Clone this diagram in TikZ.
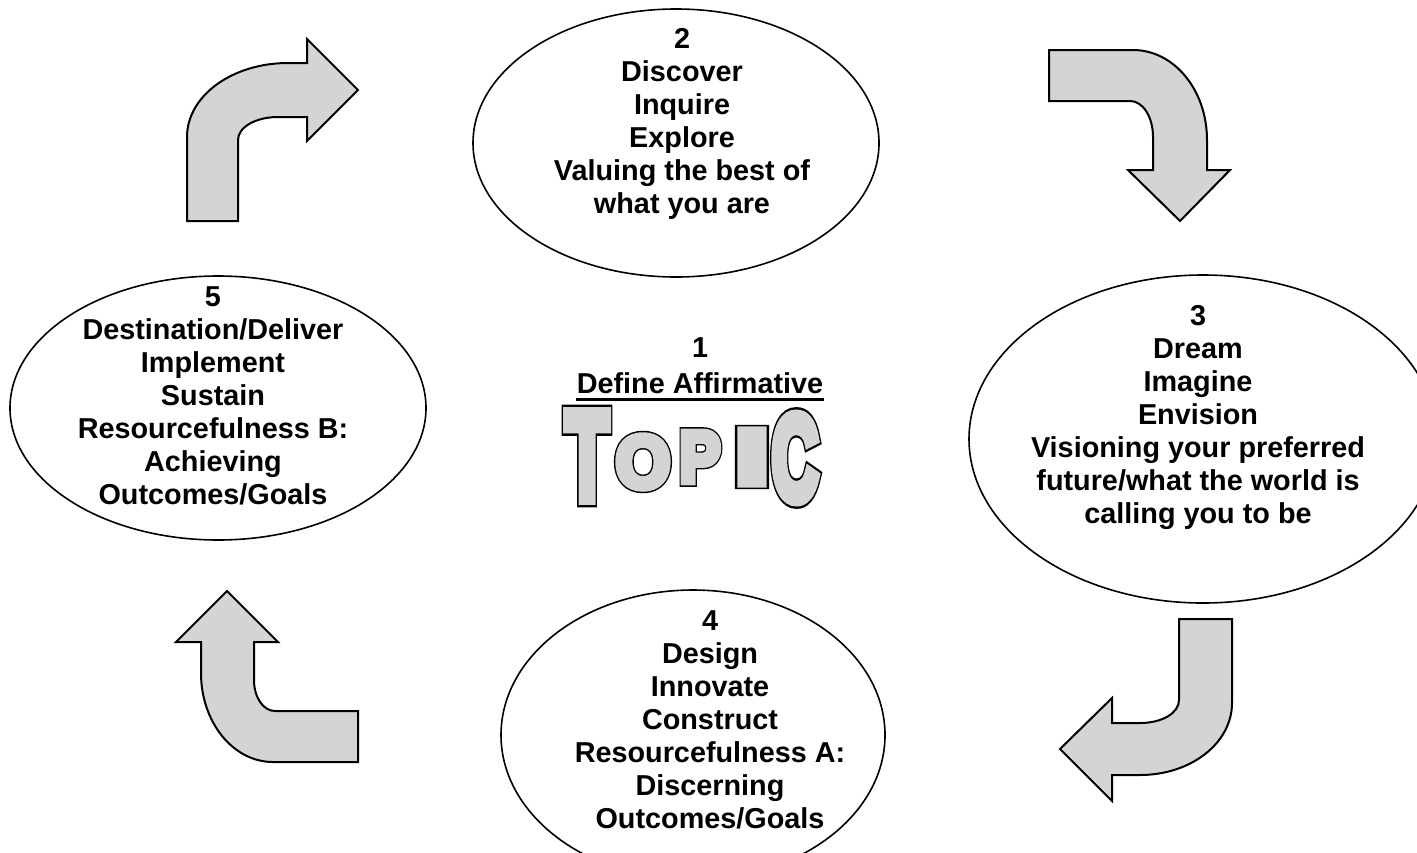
\documentclass[tikz,border=0pt]{standalone}
\usepackage{fontspec}
\setmainfont{Liberation Sans}
\newfontfamily\artedge[FakeBold=14]{Liberation Sans Bold}
\newfontfamily\artfill[FakeBold=10]{Liberation Sans Bold}
\usetikzlibrary{shapes.geometric}
\definecolor{shade}{RGB}{212,212,212}
\begin{document}
\begin{tikzpicture}[x=0.5pt,y=-0.5pt,
  oval/.style={ellipse, draw, line width=0.8pt, inner sep=0pt},
  steptext/.style={font=\fontsize{14.4}{16.5}\selectfont\bfseries, align=center, inner sep=0pt},
  turnarrow/.style={draw, fill=shade, line width=1pt, line join=miter},
  artback/.style={font=\artedge\fontsize{40}{40}\selectfont, inner sep=0pt, text=black},
  artfront/.style={font=\artfill\fontsize{40}{40}\selectfont, inner sep=0pt, text=shade}]
\useasboundingbox (0,0) rectangle (1417,852);
\clip (0,0) rectangle (1417,852);

% ellipses
\node[oval, minimum width=203pt, minimum height=134pt] (e2) at (676,143) {};
\node[oval, minimum width=234pt, minimum height=164pt] (e3) at (1203,439) {};
\node[oval, minimum width=192pt, minimum height=145pt] (e4) at (693,735) {};
\node[oval, minimum width=208pt, minimum height=132pt] (e5) at (218,408) {};

% texts
\node[steptext] (t2) at (682,124) {2\\Discover\\Inquire\\Explore\\Valuing the best of\\what you are};
\node[steptext] (t3) at (1198,417) {3\\Dream\\Imagine\\Envision\\Visioning your preferred\\future/what the world is\\calling you to be};
\node[steptext] (t4) at (710,720) {4\\Design\\Innovate\\Construct\\Resourcefulness A:\\Discerning\\Outcomes/Goals};
\node[steptext] (t5) at (213,396) {5\\Destination/Deliver\\Implement\\Sustain\\Resourcefulness B:\\Achieving\\Outcomes/Goals};

% centre
\node[steptext] (c1) at (700,348) {1};
\node[steptext] (def) at (700,383.5) {Define Affirmative};
\draw[line width=1.2pt] ([yshift=-2.6pt]def.south west) -- ([yshift=-2.6pt]def.south east);

% word art: black emboldened layer below, grey layer on top
\foreach \ch/\px/\py/\sx/\sy in {T/587/456/0.87/1.55, O/643/462/0.87/0.92, P/700/457/0.76/0.9, I/752/457/1.5/0.97, C/795/458/0.8/1.5}{
  \node[artback, xscale=\sx, yscale=\sy] (b\ch) at (\px,\py) {\ch};
  \node[artfront, xscale=\sx, yscale=\sy] (w\ch) at (\px,\py) {\ch};
}

% curved arrows
\path[turnarrow] (187,221) -- (187,137) .. controls (187,96) and (232,63) .. (288,63)
  -- (307,63) -- (307,39) -- (358,90) -- (307,141) -- (307,117) -- (278,117)
  .. controls (256,117) and (238,127) .. (238,140) -- (238,221) -- cycle;
\path[turnarrow] (1049,50) -- (1133,50) .. controls (1174,50) and (1207,90) .. (1207,140)
  -- (1207,170) -- (1230,170) -- (1180,221) -- (1128,170) -- (1153,170) -- (1153,137)
  .. controls (1153,117) and (1143,101) .. (1130,101) -- (1049,101) -- cycle;
\path[turnarrow] (1179,619) -- (1232,619) -- (1232,703) .. controls (1232,743) and (1191,775) .. (1140,775)
  -- (1112,775) -- (1112,801) -- (1060,749) -- (1112,698) -- (1112,723) -- (1140,723)
  .. controls (1162,723) and (1179,713) .. (1179,700) -- cycle;
\path[turnarrow] (358,711) -- (358,762) -- (273,762) .. controls (233,762) and (201,722) .. (201,673)
  -- (201,642) -- (176,642) -- (227,591) -- (278,642) -- (254,642) -- (254,680)
  .. controls (254,697) and (263,711) .. (275,711) -- cycle;
\end{tikzpicture}
\end{document}
